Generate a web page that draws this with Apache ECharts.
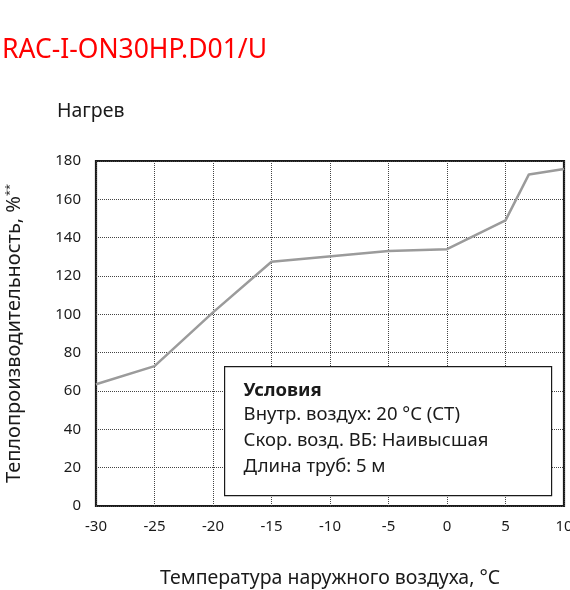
<!DOCTYPE html>
<html>
<head>
<meta charset="utf-8">
<script src="https://cdn.jsdelivr.net/npm/echarts@6/dist/echarts.min.js"></script>
<style>
  html, body { margin: 0; padding: 0; background: #fff; }
  #chart { width: 570px; height: 590px; }
</style>
</head>
<body>
<div id="chart"></div>
<script>
// данные с графика
const temps = [-30, -25, -20, -15, -5, 0, 5, 7, 10];
const heating = [63.5, 73, 101, 127.4, 133, 134, 149, 173, 175.8];
const conditions = [
  'Внутр. воздух: 20 °C (СТ)',
  'Скор. возд. ВБ: Наивысшая',
  'Длина труб: 5 м'
];

const font = 'Noto Sans';
const chart = echarts.init(document.getElementById('chart'));

const option = {
  animation: false,
  textStyle: { fontFamily: font },
  grid: {
    left: 96, right: 6, top: 161, bottom: 84,
    outerBoundsMode: 'none',
    containLabel: false,
    show: true,
    borderColor: '#1a1a1a',
    borderWidth: 2.2
  },
  xAxis: {
    type: 'value',
    min: -30, max: 10, interval: 5,
    name: 'Температура наружного воздуха, °C',
    nameLocation: 'middle',
    nameGap: 62,
    nameTextStyle: { fontSize: 19.5, color: '#1a1a1a', fontFamily: font },
    axisLine: { show: false },
    axisTick: { show: false },
    axisLabel: { color: '#1a1a1a', fontSize: 15, margin: 13, fontFamily: font },
    splitLine: { lineStyle: { type: 'dotted', color: '#444', width: 1 } }
  },
  yAxis: {
    type: 'value',
    min: 0, max: 180, interval: 20,
    name: '{a|Теплопроизводительность, %}{s|**}',
    nameLocation: 'middle',
    nameGap: 71,
    nameTextStyle: {
      rich: {
        a: { fontSize: 20, color: '#1a1a1a', fontFamily: font },
        s: { fontSize: 11, color: '#1a1a1a', fontFamily: font, verticalAlign: 'top', padding: [0, 0, 10, 0] }
      }
    },
    axisLine: { show: false },
    axisTick: { show: false },
    axisLabel: { color: '#1a1a1a', fontSize: 15, margin: 15, fontFamily: font },
    splitLine: { lineStyle: { type: 'dotted', color: '#444', width: 1 } }
  },
  series: [{
    type: 'line',
    data: temps.map((t, i) => [t, heating[i]]),
    showSymbol: false,
    lineStyle: { color: '#9b9b9b', width: 2.5 },
    z: 3
  }],
  graphic: [
    {
      type: 'text', left: 2, top: 37,
      style: { text: 'RAC-I-ON30HP.D01/U', fill: '#ff0000', fontSize: 26.5, fontFamily: font }
    },
    {
      type: 'text', left: 57, top: 101,
      style: { text: 'Нагрев', fill: '#1a1a1a', fontSize: 19.5, fontFamily: font }
    },
    {
      type: 'group', left: 224, top: 366, z: 100,
      children: [
        {
          type: 'rect', z: 100, shape: { x: 0, y: 0, width: 327, height: 129 },
          style: { fill: '#fff', stroke: '#1a1a1a', lineWidth: 1.2 }
        },
        {
          type: 'text', z: 101, x: 19, y: 15,
          style: { text: 'Условия', fill: '#1a1a1a', fontSize: 18.5, fontWeight: 'bold', fontFamily: font }
        }
      ].concat(conditions.map((c, i) => ({
        type: 'text', z: 101, x: 19, y: 39 + i * 26,
        style: { text: c, fill: '#1a1a1a', fontSize: 18.5, fontFamily: font }
      })))
    }
  ]
};

chart.setOption(option);
</script>
</body>
</html>
